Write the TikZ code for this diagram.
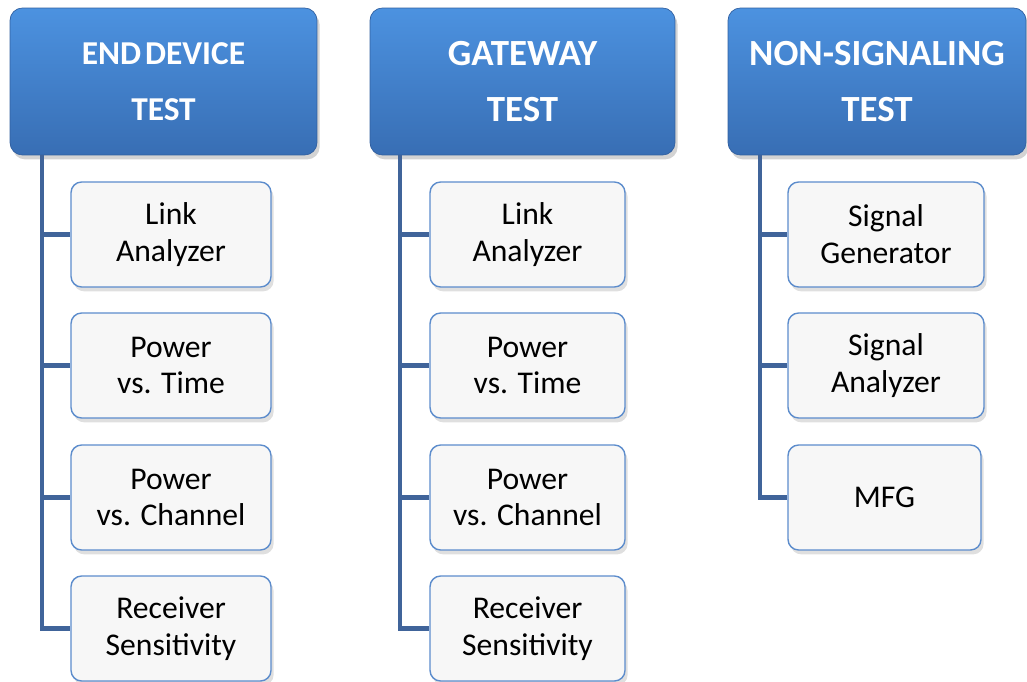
\documentclass[tikz,border=0pt]{standalone}
\usepackage{fontspec}
\setmainfont{Carlito}
\usepackage{xcolor}
\usetikzlibrary{positioning}
\usetikzlibrary{shadows}

\definecolor{headtop}{RGB}{76,146,224}
\definecolor{headbot}{RGB}{56,110,180}
\definecolor{headedge}{RGB}{50,96,160}
\definecolor{trunkcol}{RGB}{64,100,154}
\definecolor{leafedge}{RGB}{92,140,204}
\definecolor{leaffill}{RGB}{247,247,247}

\tikzset{
  head/.style={rounded corners=7pt, top color=headtop, bottom color=headbot,
    draw=headedge, line width=0.4pt, text=white, align=center,
    font=\fontsize{21}{32}\selectfont\bfseries,
    minimum height=2.94cm, inner sep=0pt,
    drop shadow={opacity=0.35, shadow xshift=1.5pt, shadow yshift=-2.5pt}},
  smallhead/.style={font=\fontsize{19}{32}\selectfont\bfseries},
  leaf/.style={rounded corners=6pt, fill=leaffill, draw=leafedge,
    line width=0.8pt, align=center, text=black,
    font=\fontsize{18}{21}\selectfont,
    minimum height=2.1cm, inner sep=0pt,
    drop shadow={opacity=0.25, shadow xshift=1.5pt, shadow yshift=-2.5pt}},
  trunk/.style={draw=trunkcol, line width=2.4pt}
}

\begin{document}
\begin{tikzpicture}[x=0.02cm, y=-0.02cm]

% Frame of the picture
\useasboundingbox (0,0) rectangle (1027,682);

% Column headers
\node[head, smallhead, minimum width=6.14cm] (hdEnd) at (163.5,81.5) {END\hspace{0.12em}DEVICE\\TEST};
\node[head, minimum width=6.10cm] (hdGate) at (522.5,81.5) {GATEWAY\\TEST};
\node[head, minimum width=5.96cm] (hdNon) at (877,81.5) {NON-SIGNALING\\TEST};

% End device tests
\node[leaf, minimum width=4cm] (e1) at (171,234.5) {Link\\Analyzer};
\node[leaf, minimum width=4cm] (e2) at (171,365.5) {Power\\vs. Time};
\node[leaf, minimum width=4cm] (e3) at (171,497.5) {Power\\vs. Channel};
\node[leaf, minimum width=4cm] (e4) at (171,628.5) {Receiver\\Sensitivity};

% Gateway tests
\node[leaf, minimum width=3.9cm] (g1) at (527.5,234.5) {Link\\Analyzer};
\node[leaf, minimum width=3.9cm] (g2) at (527.5,365.5) {Power\\vs. Time};
\node[leaf, minimum width=3.9cm] (g3) at (527.5,497.5) {Power\\vs. Channel};
\node[leaf, minimum width=3.9cm] (g4) at (527.5,628.5) {Receiver\\Sensitivity};

% Non-signaling tests
\node[leaf, minimum width=3.92cm] (n1) at (886,234.5) {Signal\\Generator};
\node[leaf, minimum width=3.92cm] (n2) at (886,365.5) {Signal\\Analyzer};
\node[leaf, minimum width=3.86cm] (n3) at (884.5,497.5) {MFG};

% Trunk lines
\coordinate (eTop) at (42,155);
\coordinate (gTop) at (400,155);
\coordinate (nTop) at (760,155);

\draw[trunk] (eTop) |- (e4.west);
\foreach \k in {e1,e2,e3} \draw[trunk] (\k.west -| eTop) -- (\k.west);

\draw[trunk] (gTop) |- (g4.west);
\foreach \k in {g1,g2,g3} \draw[trunk] (\k.west -| gTop) -- (\k.west);

\draw[trunk] (nTop) |- (n3.west);
\foreach \k in {n1,n2} \draw[trunk] (\k.west -| nTop) -- (\k.west);

\end{tikzpicture}
\end{document}
